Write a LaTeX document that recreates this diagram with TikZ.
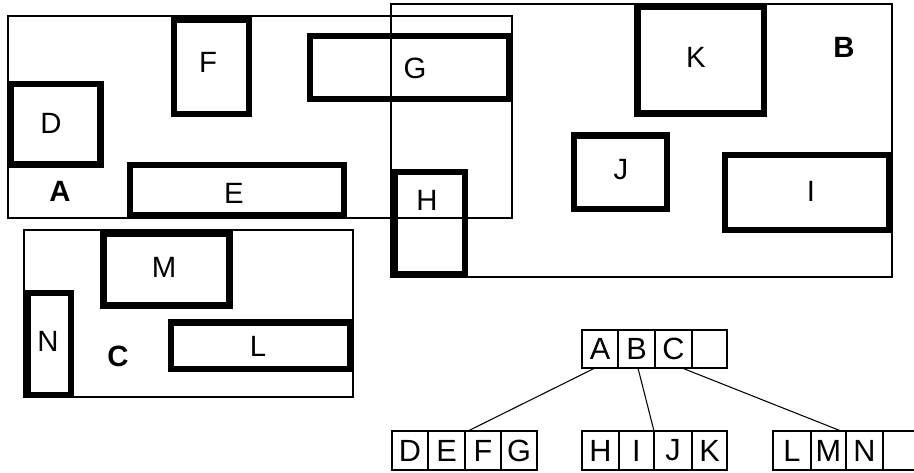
\documentclass[tikz,border=0pt]{standalone}
\usepackage{fontspec}
\setmainfont{Liberation Sans}
\usetikzlibrary{fit}
\begin{document}
\begin{tikzpicture}[x=0.75pt,y=-0.75pt,
  thinbox/.style={draw, line width=0.9pt, inner sep=0pt, outer sep=0pt},
  thickbox/.style={draw, line width=4.9pt, inner sep=0pt, outer sep=0pt},
  lbl/.style={inner sep=0pt, outer sep=0pt, font=\fontsize{22}{26}\selectfont},
  blbl/.style={inner sep=0pt, outer sep=0pt, font=\fontsize{22}{26}\selectfont\bfseries},
  cell/.style={draw, line width=0.9pt, inner sep=0pt, outer sep=0pt},
  clbl/.style={inner sep=0pt, outer sep=0pt, font=\fontsize{23}{27}\selectfont},
  conn/.style={line width=0.8pt}]
\useasboundingbox (0,0) rectangle (914,473);
\clip (0,0) rectangle (914,473);
% containers
\node[thinbox, fit={(8,16) (512,218)}] (Abox) {};
\node[thinbox, fit={(391,4) (892,277)}] (Bbox) {};
\node[thinbox, fit={(24,230) (353,397)}] (Cbox) {};
% thick rectangles
\node[thickbox, fit={(10.5,84) (100.5,164.5)}] (Dbox) {};
\node[thickbox, fit={(174,20) (249,114)}] (Fbox) {};
\node[thickbox, fit={(310,36) (509,99)}] (Gbox) {};
\node[thickbox, fit={(130,165) (344,215)}] (Ebox) {};
\node[thickbox, fit={(394.5,172) (465,274)}] (Hbox) {};
\node[thickbox, fit={(637.5,7) (764,113.5)}] (Kbox) {};
\node[thickbox, fit={(574,135.5) (667,209)}] (Jbox) {};
\node[thickbox, fit={(725,155) (889,230)}] (Ibox) {};
\node[thickbox, fit={(103.5,234) (229.5,305.5)}] (Mbox) {};
\node[thickbox, fit={(28,293) (71,395)}] (Nbox) {};
\node[thickbox, fit={(171,322.5) (350.5,369)}] (Lbox) {};
% labels
\node[lbl] (Dl) at (51,123) {D};
\node[lbl] (Fl) at (208,62) {F};
\node[lbl] (Gl) at (415,68) {G};
\node[lbl] (El) at (234,193) {E};
\node[blbl] (Al) at (60,191) {A};
\node[lbl] (Hl) at (427,200) {H};
\node[lbl] (Kl) at (696,57) {K};
\node[blbl] (Bl) at (844,47) {B};
\node[lbl] (Jl) at (621,170) {J};
\node[lbl] (Il) at (811,191) {I};
\node[lbl] (Ml) at (164,267) {M};
\node[lbl] (Nl) at (48,341) {N};
\node[lbl] (Ll) at (258,346) {L};
\node[blbl] (Cl) at (118,356) {C};
% tree top row
\node[cell, fit={(582,330) (618,368)}] (ta) {};
\node[cell, fit={(618,330) (655,368)}] (tb) {};
\node[cell, fit={(655,330) (692,368)}] (tc) {};
\node[cell, fit={(692,330) (727,368)}] (tx) {};
\node[clbl] (tal) at (ta.center) {A};
\node[clbl] (tbl) at (tb.center) {B};
\node[clbl] (tcl) at (tc.center) {C};
% tree bottom rows
\node[cell, fit={(392,431) (428,470)}] (bd) {};
\node[cell, fit={(428,431) (465,470)}] (be) {};
\node[cell, fit={(465,431) (501,470)}] (bf) {};
\node[cell, fit={(501,431) (537,470)}] (bg) {};
\node[cell, fit={(582,431) (619,470)}] (bh) {};
\node[cell, fit={(619,431) (654,470)}] (bi) {};
\node[cell, fit={(654,431) (692,470)}] (bj) {};
\node[cell, fit={(692,431) (727,470)}] (bk) {};
\node[cell, fit={(773,431) (811,470)}] (bl) {};
\node[cell, fit={(811,431) (846,470)}] (bm) {};
\node[cell, fit={(846,431) (883,470)}] (bn) {};
\node[cell, fit={(883,431) (925,470)}] (bx) {};
\node[clbl] (bdl) at (bd.center) {D};
\node[clbl] (bel) at (be.center) {E};
\node[clbl] (bfl) at (bf.center) {F};
\node[clbl] (bgl) at (bg.center) {G};
\node[clbl] (bhl) at (bh.center) {H};
\node[clbl] (bil) at (bi.center) {I};
\node[clbl] (bjl) at (bj.center) {J};
\node[clbl] (bkl) at (bk.center) {K};
\node[clbl] (bll) at (bl.center) {L};
\node[clbl] (bml) at (bm.center) {M};
\node[clbl] (bnl) at (bn.center) {N};
% connectors
\draw[conn] ([xshift=-3.75pt]ta.south) -- ([xshift=2.25pt]bf.north west);
\draw[conn] ([xshift=1.1pt]tb.south) -- (bi.north east);
\draw[conn] ([xshift=6.4pt]tc.south) -- ([xshift=-3.75pt]bm.north east);
\end{tikzpicture}
\end{document}
